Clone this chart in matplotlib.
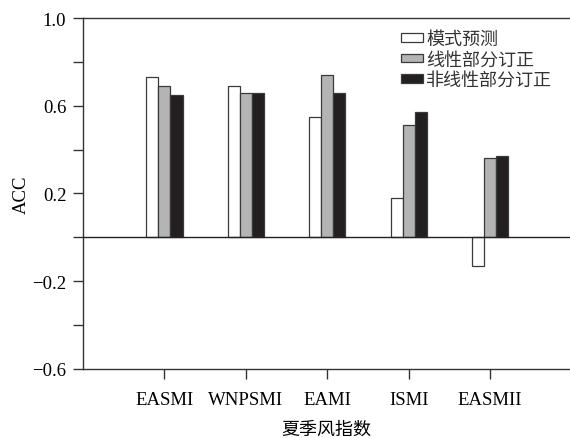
import numpy as np
import matplotlib.pyplot as plt
from matplotlib.patches import Patch

plt.rcParams['font.family'] = ['Liberation Serif', 'Noto Sans CJK SC']
plt.rcParams['axes.unicode_minus'] = True

indices = ['EASMI', 'WNPSMI', 'EAMI', 'ISMI', 'EASMII']
model_acc = [0.73, 0.69, 0.55, 0.18, -0.13]
linear_acc = [0.69, 0.66, 0.74, 0.51, 0.36]
nonlinear_acc = [0.65, 0.66, 0.66, 0.57, 0.37]
series_names = ['模式预测', '线性部分订正', '非线性部分订正']

colors = ['white', '#b4b4b4', '#231f20']
edge = '#3a3a3a'
width = 0.148

fig = plt.figure(figsize=(5.7, 4.39), dpi=100)
ax = fig.add_axes([0.1456, 0.1572, 0.8544, 0.7995])

x = np.arange(len(indices))
for k, vals in enumerate([model_acc, linear_acc, nonlinear_acc]):
    ax.bar(x + (k - 1) * width, vals, width, color=colors[k],
           edgecolor=edge, linewidth=0.9, zorder=2)

ax.axhline(0, color='#222222', lw=1.0, zorder=3)

ax.set_xlim(-1.0, 4.98)
ax.set_ylim(-0.6, 1.0)
yt = [-0.6, -0.4, -0.2, 0.0, 0.2, 0.4, 0.6, 0.8, 1.0]
ax.set_yticks(yt)
ax.set_yticklabels(['\u22120.6', '', '\u22120.2', '', '0.2', '', '0.6', '', '1.0'],
                   fontsize=13.5)
ax.set_xticks(x)
ax.set_xticklabels(indices, fontsize=13.5)
ax.tick_params(axis='y', length=7, width=1, color='#333333', pad=5)
ax.tick_params(axis='x', length=7.5, width=1, color='#333333', pad=8.5)

ax.spines['right'].set_visible(False)
for s in ['left', 'top', 'bottom']:
    ax.spines[s].set_color('#333333')
    ax.spines[s].set_linewidth(1.0)

ax.set_ylabel('ACC', fontsize=13.5, labelpad=2)
ax.set_xlabel('夏季风指数', fontsize=13, labelpad=8,
              family=['Noto Sans CJK SC'])

handles = [Patch(facecolor=c, edgecolor=edge, linewidth=0.9) for c in colors]
leg = ax.legend(handles, series_names, loc='upper left',
                bbox_to_anchor=(0.653, 0.966), frameon=False,
                prop={'family': 'Noto Sans CJK SC', 'size': 13},
                handlelength=1.2, handleheight=0.35, handletextpad=0.2,
                labelspacing=0.14, borderaxespad=0, borderpad=0)
for t in leg.get_texts():
    t.set_color('#333333')

fig.savefig('out.png', dpi=100)
